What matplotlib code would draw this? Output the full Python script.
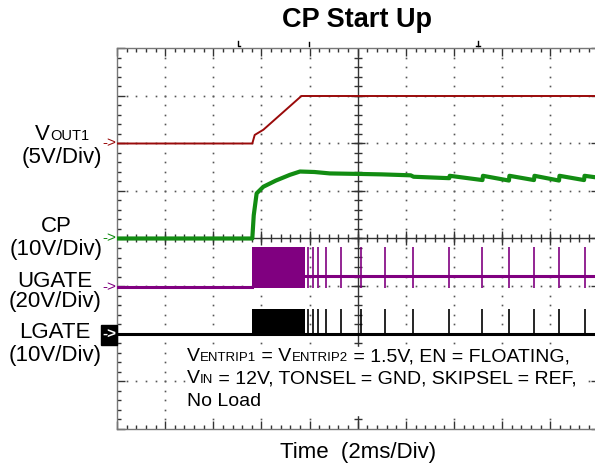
import numpy as np
import matplotlib
matplotlib.use('Agg')
import matplotlib.pyplot as plt
from matplotlib.patches import Rectangle
from matplotlib.lines import Line2D

plt.rcParams['font.family'] = ['Liberation Sans', 'DejaVu Sans']

W, H = 595, 469

# ---- traces (x in time divisions, y in screen divisions) ----
vout_t = [0.0, 2.81, 2.86, 3.04, 3.83, 10.0]
vout_v = [6.0, 6.0, 6.18, 6.29, 7.0, 7.0]

cp_t = [0.0, 2.81, 2.84, 2.90, 3.04, 3.30, 3.59, 3.80, 4.10, 4.42, 5.0, 5.5,
        6.10, 6.16, 6.90, 6.91, 7.59, 7.60, 8.14, 8.15, 8.66, 8.67, 9.18, 9.19,
        9.70, 9.71, 10.0]
cp_v = [4.0, 4.0, 4.49, 4.95, 5.09, 5.22, 5.34, 5.41, 5.40, 5.37, 5.36, 5.35,
        5.33, 5.30, 5.27, 5.32, 5.23, 5.32, 5.22, 5.32, 5.23, 5.32, 5.22, 5.32,
        5.23, 5.32, 5.28]

# switching burst and the pulses after it
burst_t = [2.81, 3.90]
spike_t = [3.96, 4.07, 4.17, 4.34, 4.66, 5.06, 5.56, 6.14, 6.89, 7.59, 8.15,
           8.67, 9.19, 9.71]

ugate_pre, ugate_post = 2.97, 3.22
ugate_lo, ugate_hi = 2.95, 3.83
lgate_base, lgate_hi = 1.99, 2.52

RED = '#9a0a0a'
GREEN = '#128c12'
PURPLE = '#800080'

fig = plt.figure(figsize=(W / 100, H / 100), dpi=100)
ax = fig.add_axes([117 / W, 1 - 428.5 / H, 481.5 / W, 380 / H])
ax.set_xlim(0, 10)
ax.set_ylim(0, 8)

# graticule
for s in ax.spines.values():
    s.set_color('#777777')
    s.set_linewidth(1)
ax.set_xticks(range(11))
ax.set_yticks(range(9))
ax.set_xticks(np.arange(0, 10.01, 0.2), minor=True)
ax.set_yticks(np.arange(0, 8.01, 0.2), minor=True)
ax.tick_params(which='both', direction='in', top=True, right=True,
               labelbottom=False, labelleft=False, color='#333333', width=1)
ax.tick_params(which='major', length=6)
ax.tick_params(which='minor', length=3)

xs = np.arange(0.2, 10, 0.2)
ys = np.arange(0.2, 8, 0.2)
for gx in range(1, 10):
    if gx != 5:
        ax.plot([gx] * len(ys), ys, ls='none', marker='s', ms=1.2, mew=0, color='#555555')
for gy in range(1, 8):
    if gy != 4:
        ax.plot(xs, [gy] * len(xs), ls='none', marker='s', ms=1.2, mew=0, color='#555555')

ax.axvline(5, color='#333333', lw=1)
ax.axhline(4, color='#333333', lw=1)
ax.plot(xs, [4] * len(xs), ls='none', marker='|', ms=6, mew=1, color='#333333')
ax.plot([5] * len(ys), ys, ls='none', marker='_', ms=6, mew=1, color='#333333')
ax.plot(range(1, 10), [4] * 9, ls='none', marker='|', ms=10, mew=1, color='#333333')
ax.plot([5] * 7, range(1, 8), ls='none', marker='_', ms=10, mew=1, color='#333333')

# LGATE
ax.plot([0, 10], [lgate_base, lgate_base], color='black', lw=2.2, zorder=5)
ax.fill_between(burst_t, lgate_base, lgate_hi, color='black', lw=0, zorder=5)
ax.vlines(spike_t, lgate_base, lgate_hi, color='black', lw=1.2, zorder=5)

# UGATE
ax.plot([0, burst_t[0]], [ugate_pre, ugate_pre], color=PURPLE, lw=2.2, zorder=6)
ax.plot([burst_t[1], 10], [ugate_post, ugate_post], color=PURPLE, lw=2.2, zorder=6)
ax.fill_between(burst_t, ugate_lo, ugate_hi, color=PURPLE, lw=0, zorder=6)
ax.vlines(spike_t, ugate_lo, ugate_hi, color=PURPLE, lw=1.2, zorder=6)

# CP and VOUT1
ax.plot(cp_t, cp_v, color=GREEN, lw=3, zorder=7)
ax.plot(vout_t, vout_v, color=RED, lw=1.4, zorder=8)


# ---- text ----
def px(x, y):
    return x / W, 1 - y / H


def width_of(s, fs):
    r = fig.canvas.get_renderer()
    t1 = fig.text(0, 0, '|' + s + '|', fontsize=fs)
    t2 = fig.text(0, 0, '||', fontsize=fs)
    w = t1.get_window_extent(r).width - t2.get_window_extent(r).width
    t1.remove()
    t2.remove()
    return w


def rich(parts, x, y, ha='left', **kw):
    ws = [width_of(s, fs) for s, fs in parts]
    x0 = x - sum(ws) / 2 if ha == 'center' else x
    for (s, fs), w in zip(parts, ws):
        fig.text(*px(x0, y), s, fontsize=fs, va='baseline', ha='left', **kw)
        x0 += w


fig.text(*px(357, 20), 'CP Start Up', fontsize=19.5, fontweight='bold',
         ha='center', va='center')
fig.text(*px(358, 458), 'Time  (2ms/Div)', fontsize=16, ha='center', va='baseline')

BIG, SMALL = 16, 10.5
rich([('V', BIG), ('OUT1', SMALL)], 62, 140, ha='center')
rich([('(5V/Div)', BIG)], 62, 163, ha='center')
rich([('CP', BIG)], 56, 232, ha='center')
rich([('(10V/Div)', BIG)], 56, 255, ha='center')
rich([('UGATE', BIG)], 55, 286.5, ha='center')
rich([('(20V/Div)', BIG)], 55, 307, ha='center')
rich([('LGATE', BIG)], 55, 338, ha='center')
rich([('(10V/Div)', BIG)], 55, 361, ha='center')

# the note sits on a white patch that hides the graticule behind it
fig.add_artist(Rectangle(px(186, 415), 397 / W, 68 / H, color='white',
                         transform=fig.transFigure, zorder=3))
A, B = 14, 9.5
rich([('V', A), ('ENTRIP1', B), (' = V', A), ('ENTRIP2', B),
      (' = 1.5V, EN = FLOATING,', A)], 187, 361, zorder=4)
rich([('V', A), ('IN', B), (' = 12V, TONSEL = GND, SKIPSEL = REF,', A)], 187, 383,
     zorder=4)
rich([('No Load', A)], 187, 406, zorder=4)

# channel markers
for y, c in [(143.5, RED), (238.5, GREEN), (287.5, PURPLE)]:
    fig.text(*px(116, y), '->', color=c, fontsize=11, ha='right', va='center')
fig.add_artist(Rectangle(px(101, 345), 16 / W, 20 / H, color='black',
                         transform=fig.transFigure))
fig.text(*px(116, 335), '->', color='white', fontsize=11, ha='right', va='center',
         fontweight='bold')

# small trigger / position marks above the frame
for xa, ya in [([238, 238, 240], [41, 46, 46]), ([309, 309], [42, 46]),
               ([478, 478], [41, 46]), ([476, 480], [46, 46])]:
    fig.add_artist(Line2D([v / W for v in xa], [1 - v / H for v in ya],
                          color='black', lw=1, transform=fig.transFigure))

fig.savefig('out.png', dpi=100)
